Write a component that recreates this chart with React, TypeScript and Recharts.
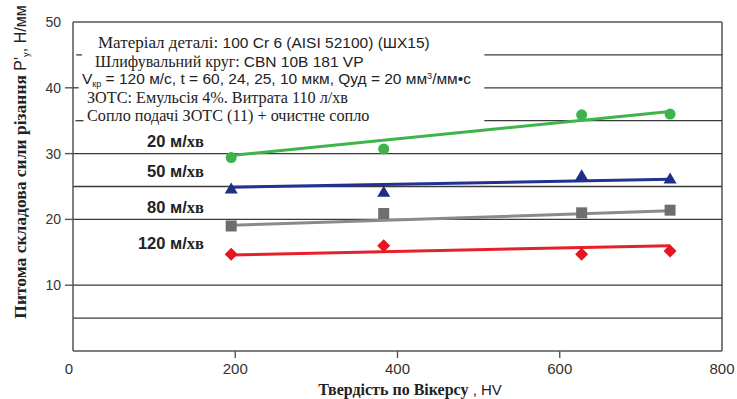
import {
  ComposedChart,
  Line,
  Scatter,
  XAxis,
  YAxis,
  ReferenceLine,
  Customized,
} from 'recharts';

// Твердість HV, при якій вимірювали
const HARDNESS = [195, 383, 627, 736];

// питома складова сили різання, Н/мм, для кожної швидкості подачі
const F_20 = [29.4, 30.7, 35.9, 36.0];
const F_50 = [24.7, 24.2, 26.7, 26.2];
const F_80 = [19.0, 20.9, 21.0, 21.4];
const F_120 = [14.7, 16.0, 14.7, 15.2];

// лінії тренду (початок / кінець)
const TREND_X = [195, 736];
const TREND_20 = [29.7, 36.4];
const TREND_50 = [24.9, 26.1];
const TREND_80 = [19.1, 21.3];
const TREND_120 = [14.6, 16.0];

const SPEED_LABELS = ['20', '50', '80', '120'];

const X_TICKS = [0, 200, 400, 600, 800];
const Y_TICKS = [10, 20, 30, 40, 50];
const GRID_FULL = [5, 10, 20, 25, 30];
const GRID_PART = [35, 40, 45];

const SERIF = '"Liberation Serif", "Times New Roman", serif';
const SANS = '"Liberation Sans", Arial, sans-serif';
const INK = '#222';
const GRID = '#3a3a3a';

const toPoints = (xs: number[], ys: number[]) => xs.map((x, i) => ({ x, y: ys[i] }));

const Circle = (p: any) => <circle cx={p.cx} cy={p.cy} r={5.5} fill="#3cb44b" />;
const Triangle = (p: any) => (
  <path d={`M${p.cx},${p.cy - 6} L${p.cx + 6.5},${p.cy + 5} L${p.cx - 6.5},${p.cy + 5} Z`} fill="#1f2e86" />
);
const Square = (p: any) => <rect x={p.cx - 5.5} y={p.cy - 5.5} width={11} height={11} fill="#6e6e6e" />;
const Diamond = (p: any) => (
  <path d={`M${p.cx},${p.cy - 6.5} L${p.cx + 6.5},${p.cy} L${p.cx},${p.cy + 6.5} L${p.cx - 6.5},${p.cy} Z`} fill="#e8151f" />
);

const YTick = (props: any) => {
  const { y, payload } = props;
  return (
    <g>
      {payload.value !== 50 && <line x1={65} x2={73} y1={y} y2={y} stroke="#555" strokeWidth={1.4} />}
      <text x={61} y={y} dy={5} textAnchor="end" fontFamily={SANS} fontSize={14} fill="#333">
        {payload.value}
      </text>
    </g>
  );
};

const XTick = (props: any) => {
  const { x, payload } = props;
  const v = payload.value;
  return (
    <g>
      {v !== 0 && v !== 800 && <line x1={x} x2={x} y1={351} y2={358} stroke="#555" strokeWidth={1.4} />}
      <text x={v === 0 ? x - 4 : x} y={374} textAnchor="middle" fontFamily={SANS} fontSize={15} fill="#333">
        {v}
      </text>
    </g>
  );
};

const Notes = () => (
  <g fill={INK}>
    <text x={98} y={48}>
      <tspan fontFamily={SERIF} fontSize={17}>Матеріал деталі: </tspan>
      <tspan fontFamily={SANS} fontSize={15.5}>100 Cr 6 (AISI 52100) (ШХ15)</tspan>
    </text>
    <text x={95} y={66.5}>
      <tspan fontFamily={SERIF} fontSize={16}>Шлифувальний круг: </tspan>
      <tspan fontFamily={SANS} fontSize={15.5}>CBN 10B 181 VP</tspan>
    </text>
    <text x={82} y={84} fontFamily={SANS} fontSize={15.5}>
      <tspan>V</tspan>
      <tspan fontSize={9} dy={2.5}>кр</tspan>
      <tspan dy={-2.5}> = 120 м/с, t = 60, 24, 25, 10 мкм, Qуд = 20 мм</tspan>
      <tspan fontSize={9} dy={-5}>3</tspan>
      <tspan dy={5}>/мм•с</tspan>
    </text>
    <text x={87} y={103} fontFamily={SERIF} fontSize={16.2}>
      ЗОТС: Емульсія 4%. Витрата 110 л/хв
    </text>
    <text x={87} y={121} fontFamily={SERIF} fontSize={16.2}>
      Сопло подачі ЗОТС (11) + очистне сопло
    </text>

    {SPEED_LABELS.map((s, i) => (
      <text key={s} x={204} y={[147, 177, 213, 249][i]} textAnchor="end" fontWeight="bold" fontSize={16.5}>
        <tspan fontFamily={SANS}>{s} м/</tspan>
        <tspan fontFamily={SERIF}>хв</tspan>
      </text>
    ))}

    <text
      transform="translate(26,162) rotate(-90)"
      textAnchor="middle"
      fontSize={17.5}
    >
      <tspan fontFamily={SERIF} fontWeight="bold">Питома складова сили різання </tspan>
      <tspan fontFamily={SANS} fontSize={16}>P'</tspan>
      <tspan fontFamily={SANS} fontSize={9.5} dy={3}>y</tspan>
      <tspan fontFamily={SANS} fontSize={16} dy={-3}>, Н/мм</tspan>
    </text>

    <text x={410} y={395} textAnchor="middle" fontSize={16}>
      <tspan fontFamily={SERIF} fontWeight="bold">Твердість по Вікерсу</tspan>
      <tspan fontFamily={SANS} fontSize={15}> , HV</tspan>
    </text>
  </g>
);

const series = [
  { key: '20', pts: F_20, trend: TREND_20, color: '#3db54a', shape: Circle },
  { key: '50', pts: F_50, trend: TREND_50, color: '#233190', shape: Triangle },
  { key: '80', pts: F_80, trend: TREND_80, color: '#8a8a8a', shape: Square },
  { key: '120', pts: F_120, trend: TREND_120, color: '#e5202a', shape: Diamond },
];

export default function App() {
  return (
    <div style={{ position: 'absolute', left: 0, top: 0, background: '#fff' }}>
      <ComposedChart width={737} height={399} margin={{ top: 22, right: 15, left: 13, bottom: 8 }}>
        <XAxis
          type="number"
          dataKey="x"
          domain={[0, 800]}
          ticks={X_TICKS}
          height={40}
          tickLine={false}
          axisLine={{ stroke: '#555', strokeWidth: 1.5 }}
          tick={<XTick />}
          allowDuplicatedCategory={false}
        />
        <YAxis
          type="number"
          dataKey="y"
          domain={[0, 50]}
          ticks={Y_TICKS}
          width={60}
          tickLine={false}
          axisLine={{ stroke: '#555', strokeWidth: 1.5 }}
          tick={<YTick />}
        />
        <ReferenceLine y={50} stroke="#555" strokeWidth={1.5} />
        <ReferenceLine x={800} stroke="#555" strokeWidth={1.5} />
        {GRID_FULL.map((v) => (
          <ReferenceLine key={v} y={v} stroke={GRID} strokeWidth={1.3} />
        ))}
        {GRID_PART.map((v) => (
          <ReferenceLine
            key={'p' + v}
            segment={[
              { x: 507, y: v },
              { x: 800, y: v },
            ]}
            stroke={GRID}
            strokeWidth={1.3}
          />
        ))}
        <ReferenceLine segment={[{ x: 4, y: 45 }, { x: 11, y: 45 }]} stroke={GRID} strokeWidth={1.3} />
        <ReferenceLine segment={[{ x: 0, y: 40 }, { x: 7, y: 40 }]} stroke={GRID} strokeWidth={1.3} />
        <ReferenceLine segment={[{ x: 3, y: 35 }, { x: 13, y: 35 }]} stroke={GRID} strokeWidth={1.3} />

        {series.map((s) => (
          <Line
            key={'t' + s.key}
            data={toPoints(TREND_X, s.trend)}
            dataKey="y"
            type="linear"
            stroke={s.color}
            strokeWidth={3}
            dot={false}
            activeDot={false}
            isAnimationActive={false}
          />
        ))}
        {series.map((s) => (
          <Scatter
            key={'s' + s.key}
            data={toPoints(HARDNESS, s.pts)}
            dataKey="y"
            shape={s.shape}
            isAnimationActive={false}
          />
        ))}
        <Customized component={Notes} />
      </ComposedChart>
    </div>
  );
}
